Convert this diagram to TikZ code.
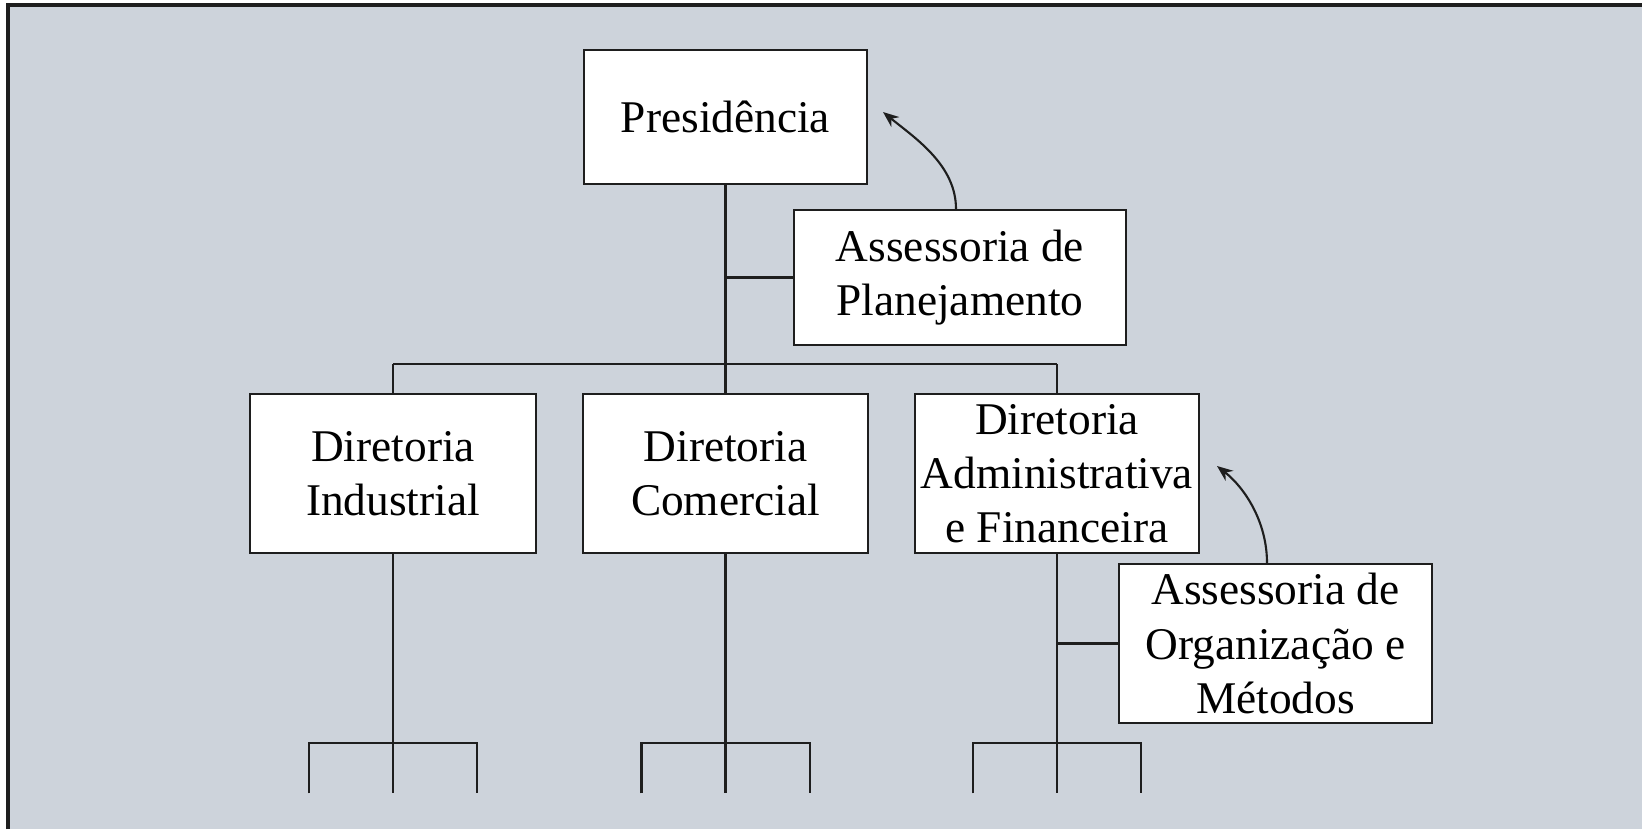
\documentclass[tikz,border=0pt]{standalone}
\usepackage{fontspec}
\setmainfont{Liberation Serif}
\usetikzlibrary{arrows.meta}
\definecolor{bgc}{RGB}{205,211,219}
\definecolor{ink}{RGB}{30,30,30}
\begin{document}
\begin{tikzpicture}[x=0.01cm,y=-0.01cm,
  box/.style={draw=ink, fill=white, line width=0.6pt, inner sep=0pt, align=center,
    font=\fontsize{12.9}{15.4}\selectfont},
  conn/.style={draw=ink, line width=0.6pt},
  arr/.style={conn, -{Stealth[length=4.5pt,width=3.6pt]}}]
\useasboundingbox (0,0) rectangle (1642,829);
\fill[white] (0,0) rectangle (1642,829);
\fill[bgc] (8,5) rectangle (1642,829);
\draw[ink, line width=0.9pt] (8,829) -- (8,5) -- (1642,5);

\node[box, minimum width=2.83cm, minimum height=1.34cm] (pres) at (725.5,117) {\raisebox{-0.03cm}{Presidência}};
\node[box, minimum width=3.32cm, minimum height=1.35cm] (ap) at (960,277.5) {Assessoria de\\Planejamento};
\node[box, minimum width=2.86cm, minimum height=1.59cm] (ind) at (393,473.5) {Diretoria\\Industrial};
\node[box, minimum width=2.84cm, minimum height=1.59cm] (com) at (725.5,473.5) {Diretoria\\Comercial};
\node[box, minimum width=2.84cm, minimum height=1.59cm] (adm) at (1057,473.5) {Diretoria\\Administrativa\\e Financeira};
\node[box, minimum width=3.13cm, minimum height=1.59cm] (om) at (1275.5,643.5) {Assessoria de\\Organização e\\Métodos};

\coordinate (busL) at (393,364);
\coordinate (busR) at (1057,364);
\coordinate (apTip) at (883,112);
\coordinate (omTip) at (1217,466);

\draw[conn] (pres.south) -- (com.north);
\draw[conn] (busL) -- (busR);
\draw[conn] (busL) -- (ind.north);
\draw[conn] (busR) -- (adm.north);
\draw[conn] (ap.west) -- (ap.west -| pres.south);
\draw[conn] (om.west) -- (om.west -| adm.south);

\foreach \n in {ind,com,adm} {
  \draw[conn] (\n.south) -- ([yshift=-2.39cm]\n.south);
  \draw[conn] ([xshift=-0.84cm,yshift=-2.39cm]\n.south) |- ([xshift=0.84cm,yshift=-1.89cm]\n.south) -- ([xshift=0.84cm,yshift=-2.39cm]\n.south);
}

\draw[arr] ([xshift=-0.04cm]ap.north) .. controls (956,165) and (915,138) .. (apTip);
\draw[arr] ([xshift=-0.085cm]om.north) .. controls (1267,522) and (1245,488) .. (omTip);
\end{tikzpicture}
\end{document}
